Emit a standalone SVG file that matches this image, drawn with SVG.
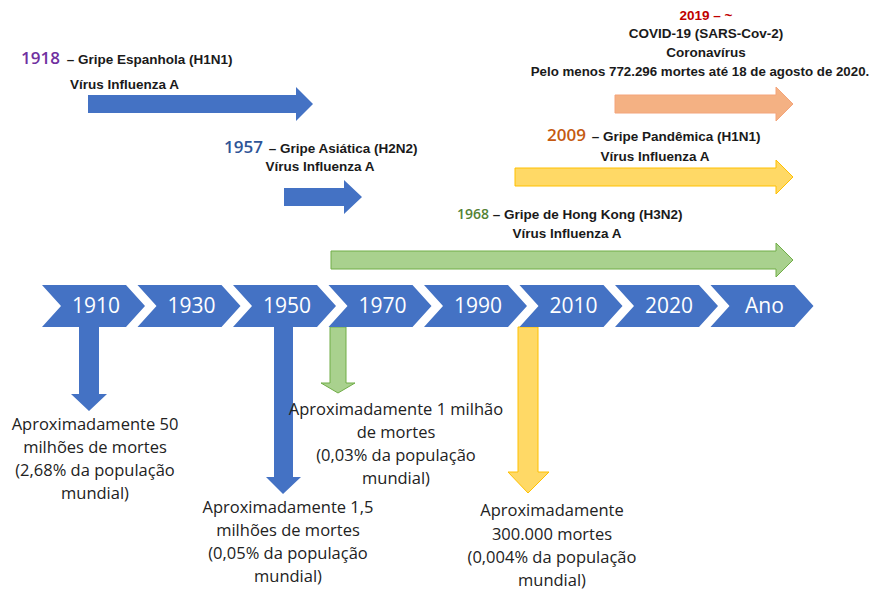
<svg xmlns="http://www.w3.org/2000/svg" width="874" height="590" viewBox="0 0 874 590">
<style>
.chev{fill:#4472C4;}
.cl{font-family:"Open Sans","Liberation Sans",sans-serif;font-size:21px;fill:#ffffff;text-anchor:middle;}
.b{font-family:"Liberation Sans",Arial,sans-serif;font-size:13.5px;font-weight:bold;fill:#1a1a1a;}
.yr{font-family:"Open Sans","Liberation Sans",sans-serif;font-size:17px;font-weight:600;}
.t{font-family:"Open Sans","Liberation Sans",sans-serif;font-size:16.5px;fill:#222222;text-anchor:middle;}
.blue{fill:#4472C4;}
.green{fill:#A9D18E;stroke:#70AD47;stroke-width:1;}
.yellow{fill:#FFD966;stroke:#FFC000;stroke-width:1;}
.orange{fill:#F4B183;stroke:#F4A47A;stroke-width:1;}
</style>
<rect width="874" height="590" fill="#ffffff"/>
<g id="connectors">
<polygon class="blue" points="88,95 296,95 296,87 313,104 296,121 296,113 88,113"/>
<polygon class="blue" points="284,188 344,188 344,180 362,197 344,214 344,206 284,206"/>
<polygon class="orange" points="615,95 776,95 776,87 793,104 776,121 776,113 615,113"/>
<polygon class="yellow" points="515,168 776,168 776,160 793,177 776,194 776,186 515,186"/>
<polygon class="green" points="331,251 776,251 776,243 793,260 776,277 776,269 331,269"/>
<polygon class="blue" points="79,327 99,327 99,394 107,394 89,411 71,394 79,394"/>
<polygon class="blue" points="274,327 293,327 293,477 301,477 283,494 266,477 274,477"/>
<polygon class="green" points="330,327 346,327 346,383 355,383 338,393 321,383 330,383"/>
<polygon class="yellow" points="518,327 538,327 538,472 549,472 528,493 508,472 518,472"/>
</g>
<g id="timeline">
<g id="c1910"><polygon class="chev" points="42,285 126,285 145,306 126,327 42,327 61,306"/><text class="cl" x="96" y="313">1910</text></g>
<g id="c1930"><polygon class="chev" points="137.5,285 221.5,285 240.5,306 221.5,327 137.5,327 156.5,306"/><text class="cl" x="191.5" y="313">1930</text></g>
<g id="c1950"><polygon class="chev" points="233,285 317,285 336,306 317,327 233,327 252,306"/><text class="cl" x="287" y="313">1950</text></g>
<g id="c1970"><polygon class="chev" points="328.5,285 412.5,285 431.5,306 412.5,327 328.5,327 347.5,306"/><text class="cl" x="382.5" y="313">1970</text></g>
<g id="c1990"><polygon class="chev" points="424,285 508,285 527,306 508,327 424,327 443,306"/><text class="cl" x="478" y="313">1990</text></g>
<g id="c2010"><polygon class="chev" points="519.5,285 603.5,285 622.5,306 603.5,327 519.5,327 538.5,306"/><text class="cl" x="573.5" y="313">2010</text></g>
<g id="c2020"><polygon class="chev" points="615,285 699,285 718,306 699,327 615,327 634,306"/><text class="cl" x="669" y="313">2020</text></g>
<g id="cAno"><polygon class="chev" points="710.5,285 794.5,285 813.5,306 794.5,327 710.5,327 729.5,306"/><text class="cl" x="764.5" y="313">Ano</text></g>
</g>
<g id="e1918">
<text x="21" y="64"><tspan class="yr" fill="#7030A0">1918</tspan><tspan class="b" dx="3"> – Gripe Espanhola (H1N1)</tspan></text>
<text class="b" x="70" y="89">Vírus Influenza A</text>
</g>
<g id="e1957">
<text x="224" y="153"><tspan class="yr" fill="#2F5597">1957</tspan><tspan class="b" dx="2"> – Gripe Asiática (H2N2)</tspan></text>
<text class="b" x="320" y="171" text-anchor="middle">Vírus Influenza A</text>
</g>
<g id="e2019">
<text class="b" x="706" y="20" text-anchor="middle" style="fill:#C00000">2019 – ~</text>
<text class="b" x="706" y="38" text-anchor="middle">COVID-19 (SARS-Cov-2)</text>
<text class="b" x="706" y="57" text-anchor="middle">Coronavírus</text>
<text class="b" x="700" y="76" text-anchor="middle" style="font-size:13.3px">Pelo menos 772.296 mortes até 18 de agosto de 2020.</text>
</g>
<g id="e2009">
<text x="547" y="141"><tspan class="yr" fill="#C55A11">2009</tspan><tspan class="b" dx="2"> – Gripe Pandêmica (H1N1)</tspan></text>
<text class="b" x="655" y="161" text-anchor="middle">Vírus Influenza A</text>
</g>
<g id="e1968">
<text x="457" y="219"><tspan class="yr" style="font-size:14px" fill="#548235">1968</tspan><tspan class="b"> – Gripe de Hong Kong (H3N2)</tspan></text>
<text class="b" x="567" y="238" text-anchor="middle">Vírus Influenza A</text>
</g>
<g id="d1918">
<text class="t" x="95" y="430">Aproximadamente 50</text>
<text class="t" x="95" y="453">milhões de mortes</text>
<text class="t" x="95" y="476">(2,68% da população</text>
<text class="t" x="95" y="499">mundial)</text>
</g>
<g id="d1957">
<text class="t" x="288" y="513">Aproximadamente 1,5</text>
<text class="t" x="288" y="536">milhões de mortes</text>
<text class="t" x="288" y="559">(0,05% da população</text>
<text class="t" x="288" y="582">mundial)</text>
</g>
<g id="d1968">
<text class="t" x="396" y="415">Aproximadamente 1 milhão</text>
<text class="t" x="396" y="438">de mortes</text>
<text class="t" x="396" y="461">(0,03% da população</text>
<text class="t" x="396" y="484">mundial)</text>
</g>
<g id="d2009">
<text class="t" x="552" y="516">Aproximadamente</text>
<text class="t" x="552" y="540">300.000 mortes</text>
<text class="t" x="552" y="563">(0,004% da população</text>
<text class="t" x="552" y="586">mundial)</text>
</g>
</svg>
